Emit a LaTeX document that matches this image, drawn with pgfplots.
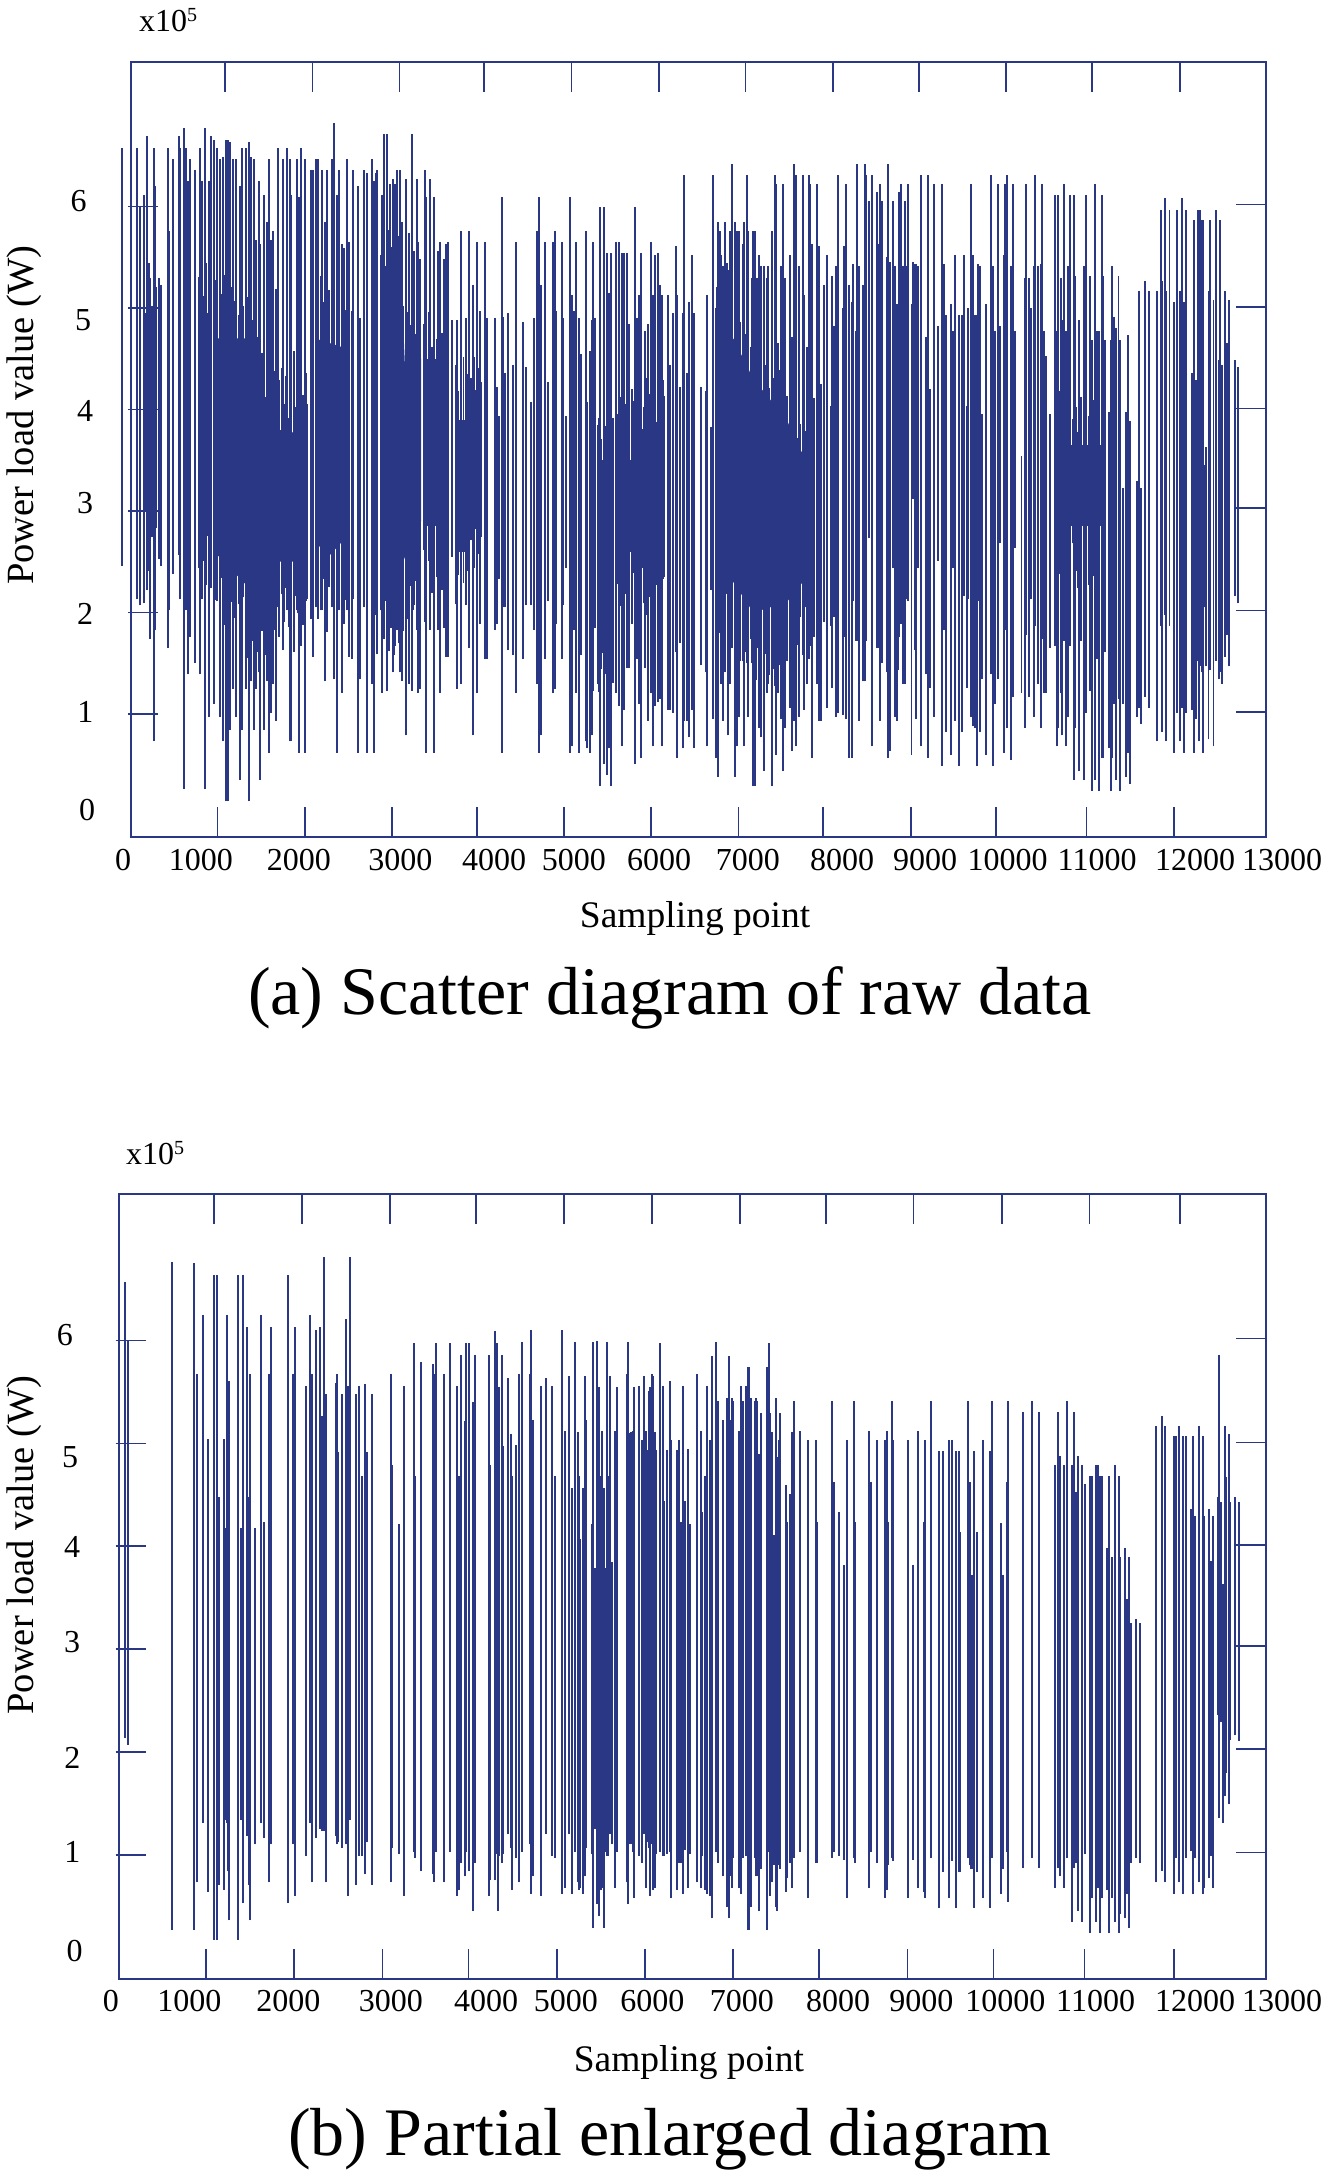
\documentclass[border=0pt]{standalone}
\usepackage{fontspec}
\setmainfont{Liberation Serif}
\usepackage{pgfplots}
\usepackage{pgfplotstable}
\pgfplotsset{compat=1.18}
\definecolor{cb}{HTML}{2A3784}
\newcommand{\tl}[3]{\raisebox{#2pt}[0pt][0pt]{\makebox[0pt][c]{\hspace*{\dimexpr#1pt*2\relax}#3}}}
\pgfplotstableread{
x lo hi
-99 2.46 6.58
73 2.13 6.58
103 2.07 6.00
149 2.09 6.11
187 2.22 6.69
218 1.74 5.30
268 0.73 6.58
275 1.83 6.20
317 2.53 5.30
344 2.46 5.23
428 1.65 6.58
439 2.02 5.76
478 2.38 6.47
550 2.57 6.69
562 2.13 6.58
607 0.26 6.77
630 2.02 6.58
649 1.39 6.25
680 1.76 6.47
733 1.50 6.36
791 1.39 6.58
817 2.13 6.25
848 0.26 6.77
894 0.97 6.25
917 2.24 6.69
955 1.10 6.66
989 2.11 6.58
1020 0.97 6.47
1058 0.73 6.49
1088 0.14 6.66
1108 0.14 6.66
1134 0.84 6.64
1165 1.25 6.47
1199 0.97 6.47
1249 0.35 6.20
1272 0.84 6.58
1314 1.25 6.58
1352 0.14 6.64
1375 1.32 6.49
1405 0.84 6.47
1428 1.25 5.67
1470 1.41 6.25
1482 0.35 5.63
1524 0.84 6.11
1554 1.32 5.85
1577 0.62 6.47
1604 1.01 5.67
1631 1.30 5.76
1657 0.93 5.19
1688 2.13 6.58
1738 1.63 6.47
1783 2.02 6.58
1821 0.73 6.47
1833 0.73 6.11
1871 1.61 4.58
1898 2.02 6.47
1925 0.62 6.09
1947 1.67 6.58
1993 0.62 6.47
2012 2.13 4.05
2062 1.94 6.36
2081 1.56 6.36
2119 2.05 6.47
2146 1.94 6.47
2184 2.02 6.36
2222 1.32 5.85
2249 1.81 6.36
2299 2.05 6.47
2325 1.34 6.82
2356 0.62 6.11
2383 2.02 6.36
2413 1.21 5.63
2444 1.89 5.59
2474 2.02 6.47
2501 1.56 5.65
2528 1.54 4.97
2543 2.13 6.36
2604 0.62 6.20
2627 1.34 4.90
2669 2.05 6.36
2707 0.62 6.33
2757 1.30 6.47
2780 0.62 6.25
2803 1.98 6.33
2822 1.59 6.36
2871 1.21 6.11
2898 2.02 6.71
2929 1.23 6.71
2967 2.02 6.22
2998 1.41 6.27
3024 1.67 6.22
3051 1.83 6.36
3081 1.41 6.36
3108 1.32 5.85
3146 0.79 6.27
3181 1.30 5.74
3215 1.23 6.71
3242 2.07 5.56
3272 1.83 6.27
3287 1.21 5.65
3310 1.25 5.48
3368 1.91 6.36
3379 0.62 6.09
3429 1.83 6.27
3467 0.62 6.09
3520 1.83 5.56
3543 1.21 5.65
3589 1.85 5.48
3612 1.56 5.63
3631 1.56 5.65
3681 2.55 4.88
3738 1.25 4.88
3780 1.30 5.76
3838 2.07 4.90
3872 1.65 5.76
3918 0.79 5.23
3963 1.21 5.65
3994 1.89 4.97
4055 1.54 5.65
4078 1.54 4.90
4170 1.83 4.90
4189 1.89 4.22
4215 2.33 3.94
4254 0.62 6.09
4264 2.05 4.91
4283 2.05 4.36
4318 1.63 4.95
4371 1.58 4.44
4405 1.21 5.65
4493 1.54 4.86
4524 2.07 4.42
4581 2.07 4.07
4619 1.83 4.90
4654 1.30 5.76
4673 0.62 6.09
4699 0.79 5.23
4741 1.54 5.65
4772 2.11 4.27
4833 1.21 5.65
4856 1.25 5.76
4867 1.89 4.97
4932 1.54 5.65
4951 2.07 4.90
4978 2.44 3.94
5028 0.62 6.09
5047 0.68 5.13
5070 1.83 4.97
5097 1.21 5.65
5135 0.62 4.90
5158 1.58 4.55
5207 0.73 5.76
5226 0.66 4.07
5261 0.62 4.58
5284 0.79 4.88
5291 1.23 5.65
5310 1.85 4.90
5352 1.30 3.85
5371 0.29 6.00
5417 0.51 6.00
5448 0.40 5.54
5471 0.66 5.15
5501 0.29 5.54
5524 2.29 3.92
5558 1.21 5.65
5593 1.08 5.65
5623 0.68 5.54
5646 1.04 5.54
5681 1.45 5.54
5700 1.45 4.84
5734 1.89 4.20
5772 0.51 6.00
5799 1.54 4.90
5822 1.10 5.13
5837 0.57 5.54
5887 1.45 4.77
5910 1.98 4.31
5925 0.93 4.84
5956 1.21 5.65
5975 0.68 5.13
6001 1.08 5.52
6032 1.12 5.54
6059 1.15 5.23
6078 0.68 5.13
6097 2.33 4.29
6154 1.04 5.13
6173 1.04 4.44
6211 1.01 4.95
6242 1.61 5.61
6253 0.57 5.13
6292 1.70 4.22
6322 0.66 4.95
6334 0.93 6.31
6364 0.93 4.36
6391 0.77 5.06
6422 1.04 5.52
6448 0.66 4.95
6528 1.48 4.22
6586 1.41 4.18
6601 0.68 5.13
6647 2.22 3.83
6666 0.95 6.31
6700 0.57 5.00
6719 0.38 5.85
6742 1.80 5.76
6761 1.30 5.52
6784 0.93 5.41
6807 1.41 5.85
6838 0.79 5.37
6860 1.30 5.76
6887 1.98 6.42
6918 0.38 5.85
6945 0.68 5.76
6960 0.97 5.76
7006 1.52 5.63
7025 0.68 5.85
7051 1.50 6.31
7070 0.97 5.76
7108 1.50 5.30
7120 0.29 5.76
7143 0.29 5.76
7174 1.65 5.30
7189 0.86 5.52
7219 0.77 5.41
7250 0.44 5.41
7280 1.21 5.30
7292 1.30 5.41
7338 0.29 5.76
7372 1.28 6.31
7387 0.60 6.22
7414 1.21 4.66
7445 0.95 5.41
7464 0.44 6.22
7490 0.86 5.30
7517 1.72 4.13
7544 1.06 5.52
7567 0.64 4.71
7594 0.93 6.42
7613 0.68 6.31
7647 0.97 5.41
7693 1.58 6.31
7708 1.04 5.13
7739 1.30 4.62
7765 1.54 6.31
7777 1.67 6.22
7804 0.57 5.63
7819 1.76 4.11
7853 1.30 6.22
7880 0.93 5.61
7906 0.93 4.25
7937 1.91 5.23
7968 1.06 5.52
8017 1.87 4.03
8029 1.26 5.32
8056 1.96 4.82
8078 0.97 5.41
8097 1.01 6.31
8151 0.99 5.00
8170 1.76 5.61
8189 0.95 6.22
8228 0.57 5.23
8254 0.57 5.06
8269 2.11 5.43
8300 1.72 4.77
8319 1.72 6.42
8338 0.93 5.41
8380 1.32 5.23
8407 1.32 6.42
8418 1.72 6.31
8452 2.73 6.05
8483 0.68 6.31
8541 1.65 6.14
8560 1.65 5.63
8582 0.93 6.22
8605 1.50 6.05
8655 1.41 5.50
8666 0.57 6.42
8694 0.64 5.45
8725 2.44 6.05
8752 0.97 5.41
8774 0.93 5.04
8790 1.43 4.03
8801 1.76 6.14
8820 1.89 6.22
8839 1.30 5.41
8866 1.30 6.05
8885 2.13 5.41
8900 2.11 6.22
8939 0.60 5.04
8961 3.12 5.45
8977 1.63 5.43
8992 0.95 5.43
9019 2.44 5.41
9046 0.68 6.31
9110 1.39 4.71
9126 0.57 6.31
9156 1.26 4.20
9202 0.97 6.22
9240 2.51 4.82
9290 0.49 6.22
9309 1.83 5.43
9332 0.82 4.93
9397 0.60 5.04
9416 2.44 4.77
9439 0.93 5.52
9481 0.49 4.93
9523 0.82 4.93
9538 2.16 5.52
9572 1.26 4.03
9588 2.13 5.00
9622 0.97 6.22
9641 0.88 5.52
9668 0.86 4.93
9687 0.49 4.93
9706 2.11 5.43
9725 0.82 5.41
9744 1.34 3.96
9794 0.60 5.04
9851 1.39 6.31
9878 0.49 5.41
9897 1.10 4.77
9935 1.34 6.22
9954 2.68 4.82
9996 0.62 5.52
10011 1.83 6.22
10031 0.86 6.31
10076 0.55 5.41
10107 1.17 6.22
10126 2.64 4.77
10199 1.21 3.54
10241 0.86 5.30
10256 1.78 6.22
10283 1.17 5.30
10305 2.13 5.00
10344 0.97 5.41
10359 1.87 6.31
10393 1.30 5.41
10420 0.86 5.43
10435 1.74 6.22
10458 1.21 4.77
10481 1.21 4.53
10527 1.65 3.96
10584 1.67 6.11
10603 0.68 4.77
10622 0.86 6.11
10649 1.21 5.30
10668 0.79 4.88
10687 1.72 6.22
10710 0.68 4.77
10737 0.97 5.41
10760 1.67 6.11
10798 0.35 6.11
10817 0.86 5.32
10859 0.44 4.88
10882 1.72 3.87
10913 0.35 5.41
10943 1.01 6.11
10981 1.23 5.32
11004 0.24 4.68
11046 0.35 6.22
11065 1.54 4.77
11084 0.24 4.77
11123 0.57 6.11
11138 0.57 5.32
11157 1.61 4.68
11203 0.66 3.98
11226 0.24 4.68
11237 0.57 5.41
11260 1.10 4.91
11283 0.35 4.80
11310 1.15 5.32
11332 0.24 4.68
11363 1.10 3.23
11397 0.38 3.98
11420 0.62 4.73
11447 0.31 3.89
11524 0.97 3.30
11550 1.06 5.17
11569 0.90 3.23
11615 1.17 5.27
11661 1.06 5.17
11749 0.73 5.17
11795 1.87 5.97
11810 0.82 5.27
11848 1.98 6.08
11859 0.73 5.17
11894 1.87 5.97
11951 0.62 5.06
11978 1.01 5.97
12012 0.73 5.17
12035 1.06 6.08
12058 0.62 5.06
12081 1.01 5.97
12150 1.04 4.36
12169 0.97 5.87
12180 0.62 5.87
12203 0.95 4.29
12218 1.52 5.97
12234 0.73 5.97
12249 1.47 5.97
12268 1.41 5.87
12283 0.62 5.87
12310 1.47 3.63
12341 0.75 5.17
12360 1.43 5.87
12398 0.68 5.08
12425 1.52 5.97
12463 1.34 4.49
12474 1.41 5.87
12501 1.30 4.44
12531 1.56 5.17
12550 1.78 4.66
12577 1.47 5.08
12642 2.16 4.49
12684 2.09 4.42
960 2.12 5.28
990 2.45 4.95
1015 2.02 5.41
1040 2.34 5.14
1070 1.88 5.33
1096 2.21 4.88
1122 1.74 5.52
1150 2.10 5.21
1178 1.95 5.07
1206 1.62 5.38
1232 2.08 4.93
1260 1.79 5.26
1288 2.15 5.02
1316 1.84 4.79
1342 1.55 5.11
1368 2.02 4.62
1396 1.72 4.88
1420 1.96 4.44
1448 1.61 4.71
1476 2.07 4.23
1502 1.82 4.56
1530 1.58 4.12
1556 1.94 4.47
1584 1.70 4.31
1612 2.12 4.02
1640 1.83 4.38
1668 2.05 3.95
1696 1.76 4.29
1724 2.18 4.41
1752 1.91 4.05
1780 2.24 4.33
1806 1.86 3.92
1834 2.09 4.18
1862 1.78 4.48
1890 2.16 4.02
1916 1.99 4.26
1944 2.27 3.98
1972 1.88 4.14
2000 2.11 4.36
2115 2.18 5.21
2146 2.41 4.88
2176 2.02 5.32
2206 2.33 5.06
2236 1.95 4.79
2266 2.25 5.18
2296 2.08 4.94
2326 2.36 5.27
2356 1.98 4.85
2386 2.28 5.09
2416 2.44 4.76
2446 2.12 4.98
2868 2.02 5.52
2896 1.74 5.84
2924 2.11 5.41
2952 1.62 5.77
2980 1.85 5.60
3008 1.58 5.89
3036 1.96 5.48
3064 1.70 5.71
3092 2.07 5.63
3120 1.82 5.02
3148 2.18 4.71
3176 1.94 4.96
3204 2.26 4.83
3232 2.02 5.05
3260 2.31 4.74
3288 2.12 4.92
3316 2.44 4.68
3355 2.62 4.84
3385 2.28 4.71
3415 2.51 4.96
3445 2.19 4.62
3475 2.66 4.88
3505 2.35 4.69
3535 2.58 4.93
3565 2.22 4.75
3718 2.08 4.44
3748 2.37 4.18
3778 2.02 4.29
3808 2.29 4.52
3838 2.12 4.08
3858 2.41 4.35
3895 2.71 4.31
3925 2.44 4.52
3955 2.82 4.19
3985 2.58 4.41
4012 2.74 4.27
148 2.62 5.35
178 2.88 5.12
208 2.41 5.44
238 2.74 5.02
262 2.51 5.31
288 2.83 5.21
778 2.44 5.31
806 2.18 5.52
834 2.51 5.12
862 2.27 5.44
890 2.06 5.26
918 2.39 5.07
6708 1.82 5.21
6738 2.11 4.92
6768 1.71 5.38
6798 1.96 5.05
6828 2.18 5.44
6858 1.79 5.12
6888 1.65 5.29
6918 2.04 4.98
6948 1.73 5.19
6978 1.52 4.86
7008 1.88 5.08
7038 1.61 4.74
7068 1.42 4.97
7098 1.74 4.62
7128 1.51 4.82
7158 1.33 4.54
7188 1.68 4.71
7218 1.45 4.38
7248 1.27 4.61
7278 1.59 4.44
7308 1.38 4.21
7338 1.62 4.52
7368 1.44 4.31
7398 1.71 4.12
7428 1.48 4.39
7458 1.31 4.08
7488 1.66 4.26
7518 1.52 3.91
7548 1.83 4.15
7578 1.61 3.78
7608 1.91 3.99
7638 1.68 3.72
7668 1.96 3.86
7698 1.74 3.58
7728 2.05 3.79
7758 1.83 3.51
7788 2.12 3.69
7818 1.94 3.62
5570 2.28 3.96
5598 2.06 4.12
5626 2.41 3.84
5654 2.18 4.05
5682 1.98 3.79
5710 2.32 4.21
5738 2.12 3.92
5766 2.39 4.08
5794 2.02 3.86
5822 2.26 4.18
5850 2.44 3.81
5878 2.09 4.02
5906 2.31 3.93
5934 2.15 4.15
5962 2.38 3.83
5990 2.04 4.09
6018 2.27 3.88
6046 2.42 4.04
6074 2.11 3.86
6102 2.35 4.13
5358 1.22 3.92
5386 1.44 3.71
5414 1.18 4.02
5442 1.39 3.84
5470 1.25 3.66
5498 1.48 3.95
5520 1.31 3.75
8758 2.34 4.11
8786 2.52 3.96
8814 2.28 4.18
9618 2.02 3.82
9646 2.24 3.62
9674 1.96 3.91
9702 2.18 3.71
9730 2.05 3.86
10580 2.44 4.11
10610 2.71 3.88
10640 2.38 4.18
10670 2.62 3.95
10700 2.29 4.08
10730 2.55 3.82
10760 2.35 4.15
10790 2.68 3.91
10820 2.41 4.02
10850 2.24 3.78
10880 2.58 4.12
10910 2.32 3.85
10940 2.64 4.05
10970 2.27 3.94
11000 2.51 3.76
11030 2.36 4.09
11060 2.61 3.87
11090 2.22 3.98
11120 2.49 4.14
11150 2.33 3.83
12156 1.82 3.72
12184 2.02 3.51
12212 1.76 3.81
12240 1.98 3.58
12268 1.84 3.69
12296 2.05 3.45
}\dataA
\pgfplotstableread{
x lo hi
71 2.14 6.57
109 2.07 6.00
608 0.27 6.77
849 0.27 6.76
887 0.73 5.68
955 1.31 6.25
1012 0.64 5.04
1084 0.17 6.64
1110 0.17 6.64
1136 0.71 4.48
1193 0.66 5.04
1204 1.34 4.18
1227 1.31 6.25
1242 0.84 5.61
1250 0.36 5.61
1352 0.17 6.64
1386 1.34 4.18
1412 0.53 6.64
1457 1.18 6.13
1473 0.71 4.48
1488 0.36 5.68
1544 1.10 4.18
1612 1.31 6.25
1646 1.16 4.24
1699 0.73 5.68
1722 1.10 6.13
1914 0.53 6.64
1975 1.10 5.68
1998 0.60 6.13
2122 0.99 5.56
2167 1.31 6.25
2194 0.73 5.68
2235 1.16 6.10
2285 1.25 6.13
2300 1.23 5.27
2330 1.23 6.81
2345 0.73 5.48
2458 1.18 5.59
2470 1.10 5.68
2485 1.12 4.92
2534 1.07 5.48
2572 1.10 6.21
2583 1.10 5.55
2598 0.60 5.56
2617 1.34 6.81
2689 0.71 5.48
2719 0.99 5.56
2753 0.99 4.68
2795 0.81 5.58
2817 1.12 4.92
2870 0.71 5.48
3082 0.73 5.68
3097 1.07 4.79
3176 1.01 4.22
3233 0.60 5.56
3342 1.03 5.98
3353 0.97 4.68
3425 0.84 5.79
3557 0.81 5.77
3576 0.73 5.68
3595 1.03 5.98
3682 0.73 5.68
3750 1.03 5.98
3829 0.60 5.56
3856 0.66 4.68
3878 0.92 5.86
3924 0.79 5.22
3939 1.03 5.98
3965 0.84 5.98
4018 0.45 5.40
4033 0.92 5.86
4196 0.60 5.86
4203 0.75 4.79
4260 0.75 6.09
4283 1.01 5.98
4301 0.45 5.40
4313 0.99 5.55
4339 0.92 5.86
4358 1.01 4.98
4414 1.20 5.64
4441 1.07 5.09
4456 0.66 4.68
4505 0.97 4.99
4535 0.73 5.68
4573 1.03 5.99
4656 1.10 5.68
4671 0.62 6.10
4698 0.79 5.23
4788 0.60 5.56
4837 1.20 5.64
4913 0.99 5.56
4939 0.97 4.68
5023 0.62 6.10
5053 0.68 5.12
5102 1.20 5.66
5132 0.62 4.57
5170 1.03 5.99
5200 0.73 5.11
5215 0.66 4.68
5226 0.68 4.07
5260 0.62 4.57
5272 1.07 3.79
5287 0.79 5.66
5294 1.07 5.23
5362 1.01 4.22
5374 0.29 5.99
5400 1.25 3.79
5419 0.52 6.00
5442 0.40 5.55
5461 0.66 4.68
5476 0.68 5.12
5502 0.29 4.57
5517 1.03 3.79
5532 0.99 5.99
5548 0.99 4.68
5563 1.20 5.66
5589 1.10 3.85
5623 0.68 5.12
5646 1.03 5.55
5763 0.73 5.68
5774 0.52 5.99
5800 1.10 5.11
5823 1.03 5.12
5835 0.58 5.55
5895 0.99 5.56
5925 0.92 5.03
5955 1.20 5.66
5974 0.68 5.12
6008 1.07 5.51
6020 0.60 5.55
6046 1.10 5.68
6054 0.66 5.66
6076 0.68 5.11
6088 1.01 4.94
6133 1.03 5.98
6163 0.99 5.56
6178 0.99 4.44
6216 1.01 4.94
6246 1.03 5.61
6258 0.58 5.03
6322 0.66 4.94
6344 0.92 5.03
6367 0.92 4.24
6394 0.62 5.56
6416 1.05 4.44
6450 0.68 4.95
6473 1.01 4.22
6548 0.73 5.68
6601 0.68 5.12
6613 0.99 4.33
6647 0.66 4.68
6662 0.62 5.56
6700 0.60 5.03
6718 0.38 5.85
6764 1.03 5.99
6787 0.92 5.41
6847 0.79 5.23
6892 0.49 5.44
6919 0.38 5.85
6934 0.79 5.23
6953 0.68 5.44
6964 0.97 5.41
7024 0.68 5.12
7047 0.62 5.56
7070 0.97 5.41
7107 0.99 5.56
7126 0.27 5.74
7145 0.27 5.74
7160 0.49 5.44
7209 0.97 5.41
7221 0.79 5.44
7236 0.79 5.41
7255 0.45 4.90
7274 0.86 5.30
7345 0.27 5.74
7364 1.03 5.98
7383 0.60 5.30
7398 0.73 5.11
7425 0.90 4.11
7447 0.49 5.44
7462 0.45 4.87
7477 0.90 5.03
7497 0.86 5.30
7561 0.64 4.60
7576 0.77 4.24
7610 0.92 4.51
7625 0.68 5.11
7651 0.97 5.41
7715 1.03 5.12
7806 0.58 5.03
7897 0.92 5.03
7916 0.92 4.24
8078 0.97 5.41
8101 1.03 4.63
8161 0.99 4.33
8218 0.95 3.82
8252 0.58 5.03
8331 0.97 5.41
8346 0.92 4.24
8497 0.68 5.12
8520 1.03 4.63
8588 0.92 5.03
8679 0.58 5.03
8701 0.66 5.12
8720 0.90 4.24
8758 0.97 5.41
8776 0.94 5.03
8943 0.58 5.03
8995 0.95 3.82
9052 0.68 5.12
9120 0.64 4.24
9131 0.58 5.03
9203 0.97 5.41
9294 0.48 4.93
9335 0.83 4.93
9403 0.58 5.03
9441 0.94 5.03
9486 0.48 4.93
9524 0.83 4.93
9536 0.83 4.14
9626 0.97 5.41
9641 0.90 4.63
9656 0.86 3.72
9672 0.86 3.72
9687 0.48 4.93
9724 0.83 4.14
9796 0.58 5.03
9876 0.48 4.93
9891 0.97 5.41
9996 0.62 4.23
10023 0.86 3.72
10068 1.03 4.63
10079 0.54 5.41
10242 0.87 5.31
10351 0.97 5.41
10431 0.87 5.31
10604 0.68 4.79
10638 0.87 5.31
10665 0.79 4.88
10710 0.68 4.79
10744 0.97 5.41
10805 0.35 4.79
10827 0.87 5.31
10842 0.92 4.53
10869 0.45 4.88
10914 0.35 4.79
10948 1.01 4.61
11005 0.24 4.68
11024 0.58 4.68
11069 0.35 4.79
11092 0.68 4.79
11114 0.24 4.68
11137 0.58 4.68
11201 0.66 3.98
11224 0.24 4.68
11250 0.58 3.90
11284 0.35 4.79
11337 0.24 4.68
11345 0.42 3.90
11402 0.38 3.98
11420 0.62 3.49
11451 0.29 3.90
11466 0.92 3.25
11522 0.97 3.29
11568 0.92 3.25
11753 0.73 5.17
11817 0.84 5.27
11859 0.73 5.17
11957 0.62 5.07
11979 0.97 5.07
12013 0.73 5.17
12062 0.62 5.07
12089 0.97 5.07
12153 1.04 4.36
12176 0.62 5.07
12195 0.97 4.29
12240 0.73 5.17
12282 0.62 5.07
12297 0.68 4.29
12353 0.77 4.36
12372 0.99 3.86
12398 0.68 4.29
12455 2.36 4.48
12471 1.36 5.86
12489 2.29 4.43
12516 1.31 3.63
12535 1.57 5.17
12550 1.79 4.67
12576 1.49 5.09
12591 2.12 4.43
12644 2.16 4.48
12689 2.11 4.43
}\dataB
\pgfplotsset{
 panel/.style={scale only axis,anchor=south west,clip=false,xmin=0,xmax=13000,ymin=-0.212,ymax=7.427,
  scaled ticks=false,
  axis line style={draw=cb,line width=1.8pt},tick style={draw=cb,line width=1.6pt},tick align=inside,
  major tick length=30pt,minor tick num=0},
 spikes/.style={forget plot,draw=none,mark=none,error bars/y dir=plus,error bars/y explicit,error bars/error mark=none,
  error bars/error bar style={draw=cb,line width=1.9pt,line cap=butt,solid}},
 core/.style={forget plot,fill=cb,draw=none,mark=none},
}
\newcommand{\spk}[1]{\addplot[spikes] table[x=x,y=lo,y error plus expr=\thisrow{hi}-\thisrow{lo}]{#1};}
\begin{document}
\begin{tikzpicture}[x=1pt,y=1pt]
\path[use as bounding box] (0,0) rectangle (1323,2177);
% ---------- panel (a)
\begin{axis}[panel,at={(131pt,1340pt)},width=1135pt,height=775.3pt,
 xtick pos=top,ytick pos=right,
 xtick={1079,2077,3074,4043,5046,6045,7040,8041,9026,10023,11008,12016},
 ytick={1.02,2.02,3.03,4.01,5.01,6.02},xticklabel=\empty,yticklabel=\empty]
\end{axis}
\begin{axis}[panel,at={(131pt,1340pt)},width=1135pt,height=775.3pt,
 xtick pos=bottom,ytick pos=left,
 y tick style={xshift=-3pt},
 xtick={0,992,1990,2987,3961,4960,5958,6958,7928,8933,9904,10943,11948,13000},
 xticklabels={\tl{-8}{-33.7}{0},\tl{-16.8}{-33.7}{1000},\tl{-5.9}{-33.7}{2000},\tl{8.5}{-33.7}{3000},\tl{17.2}{-33.7}{4000},\tl{9.7}{-33.7}{5000},\tl{7.9}{-33.7}{6000},\tl{9.3}{-33.7}{7000},\tl{18.9}{-33.7}{8000},\tl{14.2}{-33.7}{9000},\tl{11.9}{-33.7}{10000},\tl{10.7}{-33.7}{11000},\tl{21}{-33.7}{12000},\tl{16}{-33.7}{13000}},
 ytick={1,2,3,4,5,6},
 yticklabels={\tl{-45.6}{-8.7}{1},\tl{-46}{-12.3}{2},\tl{-46}{-3}{3},\tl{-46}{-12.1}{4},\tl{-48}{-22.3}{5},\tl{-52.3}{-4.6}{6}},
 extra y ticks={0},extra y tick labels={\tl{-44}{-5.5}{0}},extra tick style={major tick length=0pt},
 tick label style={anchor=center,inner sep=0pt,font=\fontsize{32}{34}\selectfont},
 xlabel={Sampling point},ylabel={Power load value (W)},
 xlabel style={at={(axis description cs:0.497,-0.117)},anchor=base,inner sep=0pt,font=\fontsize{37.5}{40}\selectfont},
 ylabel style={at={(axis description cs:-0.0857,0.544)},anchor=base,inner sep=0pt,font=\fontsize{38.5}{40}\selectfont}]
\addplot[core] coordinates {(951,4.7)(1306,4.7)(1440,4.1)(1688,3.8)(2012,3.75)(2012,2.5)(1650,2.5)(1344,2.25)(951,2.6)};
\addplot[core] coordinates {(2108,4.7)(2471,4.6)(2471,2.75)(2262,2.55)(2108,2.7)};
\addplot[core] coordinates {(2860,5.2)(3100,5.2)(3139,4.4)(3322,4.5)(3322,2.9)(3139,2.55)(2986,2.2)(2860,2.45)};
\addplot[core] coordinates {(3349,4.5)(3578,4.5)(3578,2.85)(3349,2.85)};
\addplot[core] coordinates {(3711,3.9)(3864,3.9)(3864,2.6)(3711,2.6)};
\addplot[core] coordinates {(3887,4.05)(4017,4.05)(4017,3.05)(3887,3.05)};
\addplot[core] coordinates {(142,4.95)(294,4.95)(294,3.0)(142,3.0)};
\addplot[core] coordinates {(772,4.95)(924,4.95)(924,2.75)(772,2.75)};
\addplot[core] coordinates {(6700,4.6)(6899,4.7)(7128,4.3)(7509,3.9)(7834,3.3)(7834,2.45)(7509,2.1)(7128,2.0)(6899,2.3)(6700,2.35)};
\addplot[core] coordinates {(5352,3.5)(5524,3.5)(5524,1.6)(5352,1.6)};
\addplot[core] coordinates {(5562,3.5)(6116,3.5)(6116,2.6)(5562,2.6)};
\addplot[core] coordinates {(8752,3.8)(8828,3.8)(8828,2.7)(8752,2.7)};
\addplot[core] coordinates {(9611,3.45)(9744,3.45)(9744,2.4)(9611,2.4)};
\addplot[core] coordinates {(10573,3.65)(11157,3.65)(11157,2.85)(10573,2.85)};
\addplot[core] coordinates {(12150,3.35)(12302,3.35)(12302,2.2)(12150,2.2)};
\spk{\dataA}
\end{axis}
% ---------- panel (b)
\begin{axis}[panel,at={(118.7pt,197.7pt)},width=1147.3pt,height=785.3pt,
 xtick pos=top,ytick pos=right,
 xtick={1082,2075,3076,4049,5046,6042,7038,8014,9004,10010,11002,12023},
 ytick={1.02,2.03,3.03,4.01,5.01,6.02},xticklabel=\empty,yticklabel=\empty]
\end{axis}
\begin{axis}[panel,at={(118.7pt,197.7pt)},width=1147.3pt,height=785.3pt,
 xtick pos=bottom,ytick pos=left,
 y tick style={xshift=-3pt},
 xtick={0,991,1989,2990,3963,4964,5962,6960,7934,8938,9913,10945,11958,13000},
 xticklabels={\tl{-7.7}{-32.7}{0},\tl{-16.8}{-32.7}{1000},\tl{-5.9}{-32.7}{2000},\tl{8.4}{-32.7}{3000},\tl{17.6}{-32.7}{4000},\tl{9.2}{-32.7}{5000},\tl{7.6}{-32.7}{6000},\tl{8.9}{-32.7}{7000},\tl{19.1}{-32.7}{8000},\tl{13.9}{-32.7}{9000},\tl{11.8}{-32.7}{10000},\tl{11}{-32.7}{11000},\tl{21}{-32.7}{12000},\tl{16}{-32.7}{13000}},
 ytick={1,2,3,4,5,6},
 yticklabels={\tl{-46.3}{-8}{1},\tl{-46.3}{-16.7}{2},\tl{-46.7}{-3.6}{3},\tl{-46.7}{-11}{4},\tl{-48.7}{-23.7}{5},\tl{-53.7}{-5.1}{6}},
 extra y ticks={0},extra y tick labels={\tl{-44.2}{-3.5}{0}},extra tick style={major tick length=0pt},
 tick label style={anchor=center,inner sep=0pt,font=\fontsize{32}{34}\selectfont},
 xlabel={Sampling point},ylabel={Power load value (W)},
 xlabel style={at={(axis description cs:0.497,-0.1177)},anchor=base,inner sep=0pt,font=\fontsize{37.5}{40}\selectfont},
 ylabel style={at={(axis description cs:-0.0741,0.553)},anchor=base,inner sep=0pt,font=\fontsize{38.5}{40}\selectfont}]
\addplot[core] coordinates {(5982,4.94)(6095,4.94)(6095,1.12)(5982,1.12)};
\addplot[core] coordinates {(9626,3.72)(9694,3.72)(9694,1.03)(9626,1.03)};
\addplot[core] coordinates {(4652,5.6)(4685,5.6)(4685,1.1)(4652,1.1)};
\addplot[core] coordinates {(5755,5.1)(5840,5.1)(5840,1.1)(5755,1.1)};
\addplot[core] coordinates {(7096,5.4)(7160,5.4)(7160,1.0)(7096,1.0)};
\spk{\dataB}
\end{axis}
% ---------- captions and exponents
\node[anchor=base,inner sep=0pt,font=\fontsize{68}{70}\selectfont] at (670,2177-1015) {(a) Scatter diagram of raw data};
\node[anchor=base,inner sep=0pt,font=\fontsize{68}{70}\selectfont] at (670,2177-2156) {(b) Partial enlarged diagram};
\node[anchor=base west,inner sep=0pt,font=\fontsize{32}{34}\selectfont] at (139,2177-32) {x10\raisebox{10pt}{\fontsize{20}{22}\selectfont 5}};
\node[anchor=base west,inner sep=0pt,font=\fontsize{32}{34}\selectfont] at (126,2177-1165) {x10\raisebox{10pt}{\fontsize{20}{22}\selectfont 5}};
\end{tikzpicture}
\end{document}
